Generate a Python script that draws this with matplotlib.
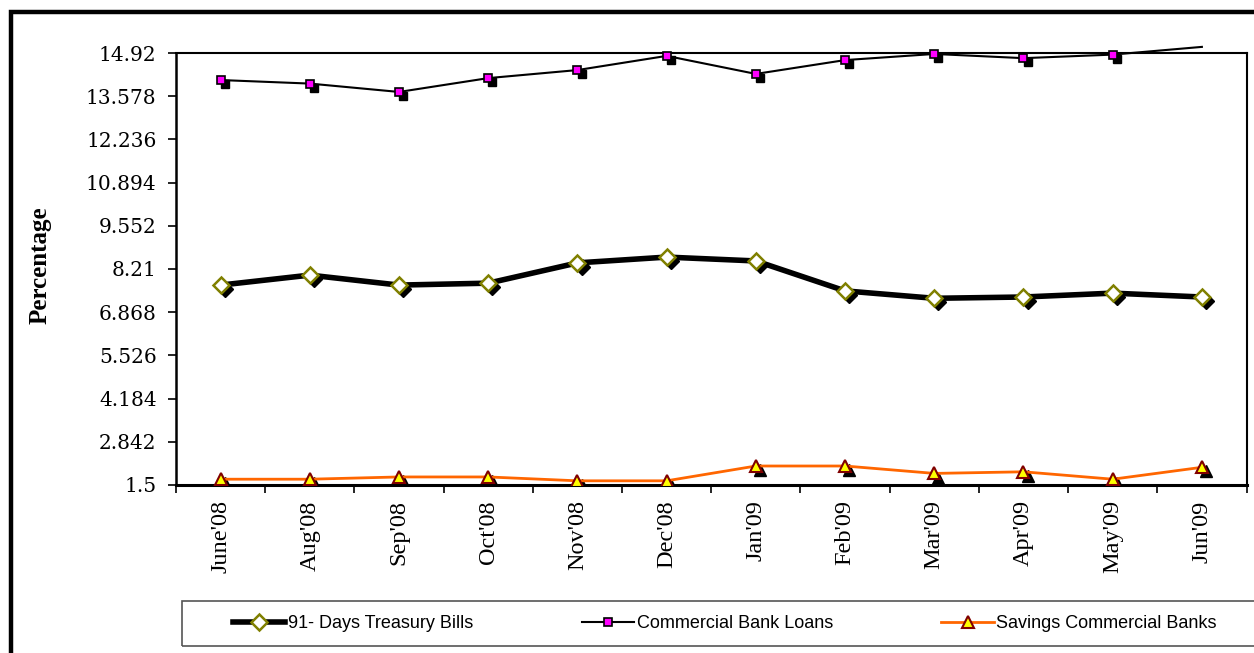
import numpy as np
import matplotlib
matplotlib.use("Agg")
import matplotlib.pyplot as plt
from matplotlib.lines import Line2D
from matplotlib.patches import Rectangle
from matplotlib.transforms import ScaledTranslation

months = ["June'08", "Aug'08", "Sep'08", "Oct'08", "Nov'08", "Dec'08",
          "Jan'09", "Feb'09", "Mar'09", "Apr'09", "May'09", "Jun'09"]
treasury_bills = [7.71, 8.02, 7.71, 7.77, 8.40, 8.58, 8.46, 7.53, 7.30, 7.34, 7.46, 7.34]
bank_loans = [14.08, 13.97, 13.71, 14.14, 14.39, 14.83, 14.27, 14.70, 14.89, 14.76, 14.87, 15.11]
savings_banks = [1.68, 1.68, 1.75, 1.75, 1.63, 1.63, 2.09, 2.09, 1.86, 1.91, 1.68, 2.05]
y_ticks = [1.5, 2.842, 4.184, 5.526, 6.868, 8.21, 9.552, 10.894, 12.236, 13.578, 14.92]
y_tick_labels = ["1.5", "2.842", "4.184", "5.526", "6.868", "8.21",
                 "9.552", "10.894", "12.236", "13.578", "14.92"]

W, H = 1254, 653
fig = plt.figure(figsize=(W / 100, H / 100), dpi=100)
ax = fig.add_axes([176 / W, 1 - 485 / H, (1246.5 - 176) / W, (485 - 53) / H])

x = np.arange(len(months))

# тень маркеров (как в Excel) - смещение вправо-вниз
shadow = ax.transData + ScaledTranslation(3 / 72, -3 / 72, fig.dpi_scale_trans)

ax.plot(x, treasury_bills, linestyle="none", marker="D", markersize=8,
        markerfacecolor="black", markeredgecolor="black", transform=shadow, zorder=3)
l1, = ax.plot(x, treasury_bills, color="black", linewidth=4, marker="D", markersize=8,
              markerfacecolor="white", markeredgecolor="#808000", markeredgewidth=1.8,
              label="91- Days Treasury Bills", zorder=4)

ax.plot(x[:-1], bank_loans[:-1], linestyle="none", marker="s", markersize=6,
        markerfacecolor="black", markeredgecolor="black", transform=shadow, zorder=3)
l2, = ax.plot(x, bank_loans, color="black", linewidth=1.5, marker="s", markersize=6,
              markerfacecolor="#FF00FF", markeredgecolor="black", markeredgewidth=1.2,
              markevery=list(range(len(months) - 1)), clip_on=False,
              label="Commercial Bank Loans", zorder=4)

ax.plot(x, savings_banks, linestyle="none", marker="^", markersize=8,
        markerfacecolor="black", markeredgecolor="black", transform=shadow, zorder=3)
l3, = ax.plot(x, savings_banks, color="#FF6600", linewidth=2, marker="^", markersize=8,
              markerfacecolor="#FFFF00", markeredgecolor="#800000", markeredgewidth=1.5,
              label="Savings Commercial Banks", zorder=4)

ax.set_xlim(-0.5, len(months) - 0.5)
ax.set_ylim(1.5, 14.92)
ax.set_yticks(y_ticks)
ax.set_yticklabels(y_tick_labels, family="DejaVu Serif", fontsize=14.5)
ax.set_xticks(x)
ax.set_xticklabels(months, rotation=90, family="Liberation Serif", fontsize=17.5)
ax.set_xticks(np.arange(len(months) + 1) - 0.5, minor=True)
ax.tick_params(axis="x", which="major", length=0, pad=11)
ax.tick_params(axis="x", which="minor", length=6, width=1.2, direction="out")
ax.tick_params(axis="y", length=6, width=1.2, direction="out", pad=8)

for side in ["top", "right"]:
    ax.spines[side].set_linewidth(1.5)
ax.spines["left"].set_linewidth(1.8)
ax.spines["bottom"].set_linewidth(2.2)

fig.text(40 / W, 1 - 265 / H, "Percentage", rotation=90, ha="center", va="center",
         family="Liberation Serif", fontweight="bold", fontsize=18)

# рамка легенды уходит за правый край, как в оригинале
fig.add_artist(Rectangle((182 / W, 1 - 646 / H), (1270 - 182) / W, 45 / H,
                         transform=fig.transFigure, facecolor="none",
                         edgecolor="#555555", linewidth=1.2))
leg = fig.legend(handles=[l1, l2, l3], loc="center", ncol=3,
                 bbox_to_anchor=(725 / W, 1 - 623.5 / H),
                 prop={"family": "Liberation Sans", "size": 13},
                 frameon=False, handlelength=2.9, columnspacing=6.0,
                 handletextpad=0.15)

# толстая внешняя рамка (левый и верхний край)
fig.add_artist(Line2D([10.5 / W, 10.5 / W, 1.0], [0.0, 1 - 11.5 / H, 1 - 11.5 / H],
                      transform=fig.transFigure, color="black", linewidth=3.2,
                      solid_joinstyle="miter"))

fig.savefig("out.png", dpi=100)
